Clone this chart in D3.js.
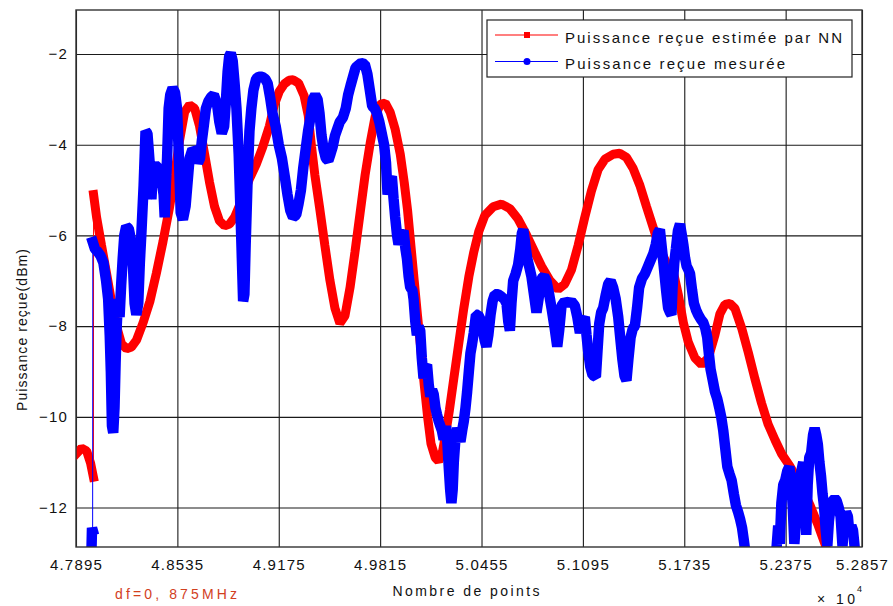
<!DOCTYPE html>
<html>
<head>
<meta charset="utf-8">
<script src="https://cdn.jsdelivr.net/npm/d3@7"></script>
<style>
  body { margin: 0; background: #fff; }
  svg text { font-family: Arial, "Liberation Sans", sans-serif; fill: #111; }
</style>
</head>
<body>
<svg id="chart" width="893" height="606"></svg>
<script>
// Values (x = nombre de points, y = dBm)
const xTicks = [47895, 48535, 49175, 49815, 50455, 51095, 51735, 52375, 52857];
const yTicks = [-2, -4, -6, -8, -10, -12];
const seriesNames = ['Puissance reçue estimée par NN', 'Puissance reçue mesurée'];
const seriesColors = ['#ff0000', '#0000ff'];

// red curve : estimated by the NN
const estimee = [
  [47895,-10.82],[47930,-10.69],[47962,-10.75],[47987,-11.02],[48005,-11.33],
  [48006,-5.10],[48025,-5.60],[48056,-6.22],[48088,-6.84],[48119,-7.46],[48151,-8.00],[48182,-8.39],
  [48214,-8.50],[48245,-8.46],[48277,-8.31],[48319,-7.92],[48361,-7.46],[48402,-6.84],[48444,-6.14],
  [48486,-5.37],[48518,-4.67],[48549,-3.90],[48581,-3.28],[48612,-3.12],[48644,-3.20],[48675,-3.59],
  [48707,-4.21],[48738,-4.83],[48770,-5.37],[48801,-5.68],[48833,-5.79],[48864,-5.75],[48896,-5.60],
  [48938,-5.25],[48990,-4.75],[49032,-4.44],[49074,-4.05],[49116,-3.59],[49147,-3.12],[49179,-2.82],
  [49210,-2.66],[49240,-2.58],[49266,-2.57],[49300,-2.64],[49335,-2.92],[49361,-3.35],[49382,-4.05],
  [49403,-4.67],[49435,-5.44],[49466,-6.22],[49498,-6.99],[49530,-7.61],[49561,-7.94],[49593,-7.77],
  [49625,-7.15],[49656,-6.37],[49688,-5.52],[49720,-4.67],[49752,-3.97],[49783,-3.39],[49815,-3.11],
  [49847,-3.08],[49878,-3.28],[49910,-3.66],[49942,-4.21],[49967,-4.83],[49988,-5.44],[50009,-6.22],
  [50030,-6.99],[50051,-7.77],[50073,-8.54],[50094,-9.31],[50115,-10.01],[50136,-10.59],[50163,-10.90],
  [50184,-10.98],[50210,-10.75],[50231,-10.32],[50252,-9.86],[50280,-9.16],[50311,-8.39],[50343,-7.61],
  [50375,-6.91],[50406,-6.37],[50438,-5.91],[50476,-5.56],[50528,-5.37],[50581,-5.31],[50634,-5.41],
  [50686,-5.64],[50739,-5.99],[50791,-6.37],[50834,-6.68],[50886,-6.99],[50939,-7.19],[50981,-7.07],
  [51023,-6.76],[51065,-6.22],[51107,-5.60],[51149,-5.02],[51191,-4.55],[51234,-4.32],[51286,-4.21],
  [51328,-4.19],[51370,-4.28],[51412,-4.52],[51455,-4.90],[51497,-5.37],[51539,-5.83],[51581,-6.30],
  [51623,-6.61],[51666,-6.80],[51697,-7.30],[51729,-7.92],[51760,-8.35],[51802,-8.70],[51844,-8.85],
  [51887,-8.70],[51929,-8.19],[51960,-7.73],[51992,-7.52],[52023,-7.50],[52055,-7.61],[52097,-8.04],
  [52139,-8.58],[52181,-9.16],[52223,-9.70],[52265,-10.17],[52308,-10.51],[52350,-10.82],[52402,-11.09],
  [52465,-11.48],[52529,-11.95],[52581,-12.40],[52630,-12.87],[52660,-13.20]
];

// blue curve : measured (noisy)
const mesuree = [
  [47993,-12.9],[47996,-12.45],[48000,-12.5],
  [48001,-6.15],[48015,-6.3],[48030,-6.35],[48050,-6.45],[48068,-6.6],[48085,-7.0],[48098,-7.4],
  [48108,-8.2],[48115,-9.0],[48122,-10.2],[48130,-10.35],[48138,-9.8],[48145,-8.8],[48152,-8.0],
  [48160,-7.4],[48170,-7.8],[48180,-7.1],[48190,-6.5],[48200,-6.0],[48212,-5.8],[48228,-5.85],
  [48242,-6.1],[48255,-6.7],[48265,-7.5],[48276,-7.75],[48288,-7.5],[48298,-6.6],[48307,-6.0],
  [48322,-4.9],[48334,-3.7],[48346,-3.75],[48360,-4.4],[48371,-5.2],[48382,-4.5],[48395,-4.45],
  [48410,-4.5],[48423,-4.6],[48437,-4.8],[48448,-5.1],[48455,-5.6],[48462,-4.9],[48470,-4.3],
  [48480,-3.2],[48490,-2.9],[48505,-2.75],[48520,-2.85],[48533,-3.2],[48545,-4.3],[48556,-5.5],
  [48570,-5.65],[48587,-5.35],[48600,-4.8],[48612,-4.3],[48630,-4.1],[48648,-4.15],[48665,-4.4],
  [48678,-4.3],[48690,-3.9],[48701,-3.6],[48715,-3.2],[48730,-3.05],[48748,-2.95],[48765,-2.9],
  [48785,-3.1],[48800,-3.5],[48815,-3.75],[48830,-3.6],[48842,-3.0],[48852,-2.4],[48862,-2.05],
  [48872,-1.98],[48884,-2.15],[48895,-2.6],[48908,-3.2],[48922,-4.2],[48932,-5.3],[48942,-6.5],
  [48950,-7.45],[48958,-7.3],[48966,-6.2],[48978,-4.8],[48990,-3.7],[49002,-3.2],[49015,-2.8],
  [49032,-2.55],[49050,-2.5],[49070,-2.5],[49090,-2.55],[49105,-2.65],[49120,-2.95],[49135,-3.3],
  [49156,-3.6],[49175,-4.0],[49195,-4.3],[49213,-4.7],[49230,-5.1],[49248,-5.45],[49265,-5.6],
  [49285,-5.55],[49300,-5.3],[49315,-5.0],[49330,-4.5],[49345,-4.1],[49360,-3.7],[49375,-3.4],
  [49390,-3.0],[49405,-2.9],[49420,-3.0],[49432,-3.3],[49445,-3.8],[49458,-4.1],[49472,-4.3],
  [49488,-4.35],[49502,-4.2],[49515,-4.05],[49530,-3.8],[49545,-3.65],[49560,-3.5],[49580,-3.4],
  [49598,-3.2],[49613,-2.9],[49628,-2.7],[49644,-2.5],[49660,-2.3],[49676,-2.25],[49695,-2.2],
  [49718,-2.22],[49735,-2.45],[49750,-2.8],[49765,-3.15],[49780,-3.2],[49794,-3.3],[49810,-3.5],
  [49825,-3.75],[49840,-4.0],[49852,-4.4],[49862,-5.1],[49875,-4.8],[49889,-4.7],[49900,-5.2],
  [49910,-5.6],[49922,-6.0],[49931,-6.2],[49945,-6.0],[49963,-5.9],[49975,-6.3],[49984,-6.5],
  [49995,-6.9],[50005,-7.15],[50018,-7.2],[50026,-7.4],[50037,-7.9],[50047,-8.2],[50058,-8.0],
  [50068,-8.1],[50078,-8.7],[50089,-9.15],[50100,-8.9],[50111,-8.85],[50122,-9.3],[50132,-9.55],
  [50143,-9.4],[50153,-9.5],[50164,-9.8],[50174,-9.95],[50185,-10.1],[50195,-10.2],[50205,-10.3],
  [50216,-10.5],[50224,-10.3],[50231,-10.2],[50240,-10.6],[50248,-11.1],[50257,-11.6],[50265,-11.9],
  [50273,-11.6],[50280,-11.0],[50290,-10.5],[50301,-10.25],[50312,-10.4],[50322,-10.55],[50333,-10.3],
  [50343,-10.1],[50354,-9.8],[50364,-9.45],[50375,-9.0],[50385,-8.6],[50395,-8.4],[50406,-8.15],
  [50420,-7.75],[50434,-7.75],[50448,-7.85],[50461,-8.0],[50474,-8.3],[50486,-8.45],[50498,-8.2],
  [50512,-7.75],[50525,-7.45],[50539,-7.3],[50560,-7.3],[50581,-7.35],[50598,-7.4],[50613,-7.5],
  [50624,-7.9],[50634,-8.1],[50644,-7.5],[50655,-7.0],[50670,-6.85],[50686,-6.65],[50700,-6.3],
  [50710,-5.95],[50718,-5.87],[50728,-6.1],[50743,-6.5],[50757,-6.7],[50770,-6.9],[50786,-7.3],
  [50802,-7.7],[50815,-7.4],[50834,-6.95],[50850,-6.9],[50865,-7.0],[50882,-7.3],[50897,-7.6],
  [50915,-8.0],[50933,-8.45],[50945,-8.1],[50960,-7.55],[50980,-7.45],[51002,-7.5],[51022,-7.45],
  [51044,-7.55],[51060,-7.8],[51076,-8.15],[51090,-7.9],[51107,-7.8],[51118,-8.2],[51128,-8.55],
  [51142,-8.9],[51156,-9.08],[51167,-9.1],[51177,-9.12],[51188,-8.5],[51198,-7.95],[51210,-7.7],
  [51223,-7.6],[51240,-7.3],[51255,-7.07],[51270,-7.0],[51286,-7.15],[51302,-7.4],[51318,-7.8],
  [51332,-8.3],[51345,-8.75],[51358,-9.1],[51370,-9.2],[51383,-8.7],[51396,-8.25],[51410,-8.05],
  [51423,-8.0],[51437,-7.6],[51450,-7.15],[51468,-6.95],[51486,-6.85],[51504,-6.7],[51522,-6.55],
  [51540,-6.4],[51555,-6.2],[51568,-5.95],[51581,-5.87],[51594,-6.3],[51606,-6.7],[51620,-7.2],
  [51633,-7.6],[51645,-7.7],[51654,-7.75],[51661,-7.15],[51672,-6.6],[51682,-6.3],[51695,-5.9],
  [51708,-5.75],[51720,-6.0],[51729,-6.2],[51740,-6.5],[51750,-6.68],[51760,-6.75],[51771,-6.84],
  [51784,-7.2],[51796,-7.5],[51810,-7.65],[51823,-7.75],[51840,-7.85],[51855,-7.92],[51868,-8.05],
  [51880,-8.25],[51890,-8.6],[51901,-8.95],[51915,-9.2],[51929,-9.45],[51943,-9.6],[51956,-9.8],
  [51968,-10.0],[51981,-10.3],[51994,-10.7],[52007,-11.1],[52020,-11.25],[52034,-11.4],[52048,-11.7],
  [52061,-11.95],[52075,-12.1],[52087,-12.25],[52100,-12.45],[52112,-12.75],[52125,-13.1],[52150,-13.3],
  [52250,-13.3],[52300,-13.2],[52318,-12.87],[52328,-12.4],[52338,-12.8],[52348,-11.9],[52360,-11.5],
  [52372,-11.4],[52385,-11.2],[52398,-11.1],[52410,-11.4],[52420,-12.0],[52430,-12.8],[52440,-12.3],
  [52450,-11.8],[52462,-11.4],[52474,-11.2],[52486,-11.0],[52496,-11.6],[52505,-12.6],[52514,-11.5],
  [52524,-10.9],[52536,-10.8],[52548,-10.4],[52558,-10.25],[52568,-10.4],[52578,-10.6],[52588,-11.0],
  [52598,-11.3],[52608,-11.7],[52618,-12.0],[52628,-12.5],[52638,-12.85],[52648,-12.3],[52660,-11.95],
  [52672,-11.85],[52685,-11.8],[52697,-11.85],[52710,-12.0],[52722,-12.2],[52734,-12.85],[52744,-12.3],
  [52756,-12.1],[52768,-12.2],[52778,-12.6],[52790,-12.4],[52800,-12.5],[52810,-12.85]
];

// layout
const W = 893, H = 606;
const margin = { top: 10, right: 31, bottom: 59, left: 76 };
const w = W - margin.left - margin.right;
const h = H - margin.top - margin.bottom;
const markerWidths = [9, 10.5]; // dense markers render as a thick band
const jump = 3;                 // a gap bigger than this (dB) is drawn thin only

const svg = d3.select('#chart');
const g = svg.append('g').attr('transform', `translate(${margin.left},${margin.top})`);

const x = d3.scaleLinear().domain([47895, 52857]).range([0, w]);
const y = d3.scaleLinear().domain([-12.87, -1.03]).range([h, 0]);

// grid + tick labels
const xAxis = g.append('g')
  .attr('transform', `translate(0,${h})`)
  .call(d3.axisBottom(x).tickValues(xTicks).tickSize(-h).tickPadding(12)
    .tickFormat(d => (d / 1e4).toFixed(4)));
const yAxis = g.append('g')
  .call(d3.axisLeft(y).tickValues(yTicks).tickSize(-w).tickPadding(8).tickFormat(d3.format('d')));

[xAxis, yAxis].forEach(ax => {
  ax.select('.domain').remove();
  ax.selectAll('line').attr('stroke', '#1a1a1a').attr('stroke-width', 1.1);
  ax.selectAll('text').style('font-size', '15px').style('letter-spacing', '1.2px').attr('fill', '#111');
});

g.append('clipPath').attr('id', 'plotClip')
  .append('rect').attr('width', w).attr('height', h);

const line = d3.line().x(d => x(d[0])).y(d => y(d[1]));

// split a series where the value jumps, markers are only where points are dense
function segments(data) {
  const out = [[data[0]]];
  for (let i = 1; i < data.length; i++) {
    if (Math.abs(data[i][1] - data[i - 1][1]) > jump) out.push([]);
    out[out.length - 1].push(data[i]);
  }
  return out;
}

const plot = g.append('g').attr('clip-path', 'url(#plotClip)');
[estimee, mesuree].forEach((data, i) => {
  plot.append('path')
    .attr('d', line(data))
    .attr('fill', 'none')
    .attr('stroke', seriesColors[i])
    .attr('stroke-width', 1);
  plot.selectAll(null)
    .data(segments(data))
    .enter().append('path')
    .attr('d', line)
    .attr('fill', 'none')
    .attr('stroke', seriesColors[i])
    .attr('stroke-width', markerWidths[i])
    .attr('stroke-linejoin', 'bevel')
    .attr('stroke-linecap', 'square');
});

// frame
g.append('rect')
  .attr('width', w).attr('height', h)
  .attr('fill', 'none').attr('stroke', '#333').attr('stroke-width', 1.4);

// legend
const lg = svg.append('g');
lg.append('rect')
  .attr('x', 487).attr('y', 20).attr('width', 365).attr('height', 57)
  .attr('fill', '#fff').attr('stroke', '#222').attr('stroke-width', 1.2);
const legendLens = [277, 220];
seriesNames.forEach((name, i) => {
  const ly = 35 + i * 26.5;
  lg.append('line')
    .attr('x1', 495).attr('x2', 558).attr('y1', ly).attr('y2', ly)
    .attr('stroke', seriesColors[i]).attr('stroke-width', 1.2);
  if (i === 0) {
    lg.append('rect').attr('x', 524).attr('y', ly - 3).attr('width', 6).attr('height', 6)
      .attr('fill', seriesColors[i]);
  } else {
    lg.append('circle').attr('cx', 527).attr('cy', ly).attr('r', 3.5).attr('fill', seriesColors[i]);
  }
  lg.append('text')
    .attr('x', 565).attr('y', ly + 7.5)
    .attr('textLength', legendLens[i]).attr('lengthAdjust', 'spacing')
    .style('font-size', '15px')
    .text(name);
});

// axis titles and annotations
svg.append('text')
  .attr('transform', 'translate(27,330) rotate(-90)')
  .attr('text-anchor', 'middle')
  .attr('textLength', 162).attr('lengthAdjust', 'spacing')
  .style('font-size', '14px')
  .text('Puissance reçue(dBm)');
svg.append('text')
  .attr('x', 466).attr('y', 596)
  .attr('text-anchor', 'middle')
  .attr('textLength', 147).attr('lengthAdjust', 'spacing')
  .style('font-size', '14px')
  .text('Nombre de points');
svg.append('text')
  .attr('x', 115).attr('y', 599)
  .attr('textLength', 122).attr('lengthAdjust', 'spacing')
  .style('font-size', '14px')
  .style('fill', '#d2401e')
  .text('df=0, 875MHz');
svg.append('text')
  .attr('x', 817).attr('y', 604)
  .attr('textLength', 38).attr('lengthAdjust', 'spacing')
  .style('font-size', '14px')
  .text('× 10');
svg.append('text')
  .attr('x', 857).attr('y', 592)
  .style('font-size', '9px')
  .text('4');
</script>
</body>
</html>
